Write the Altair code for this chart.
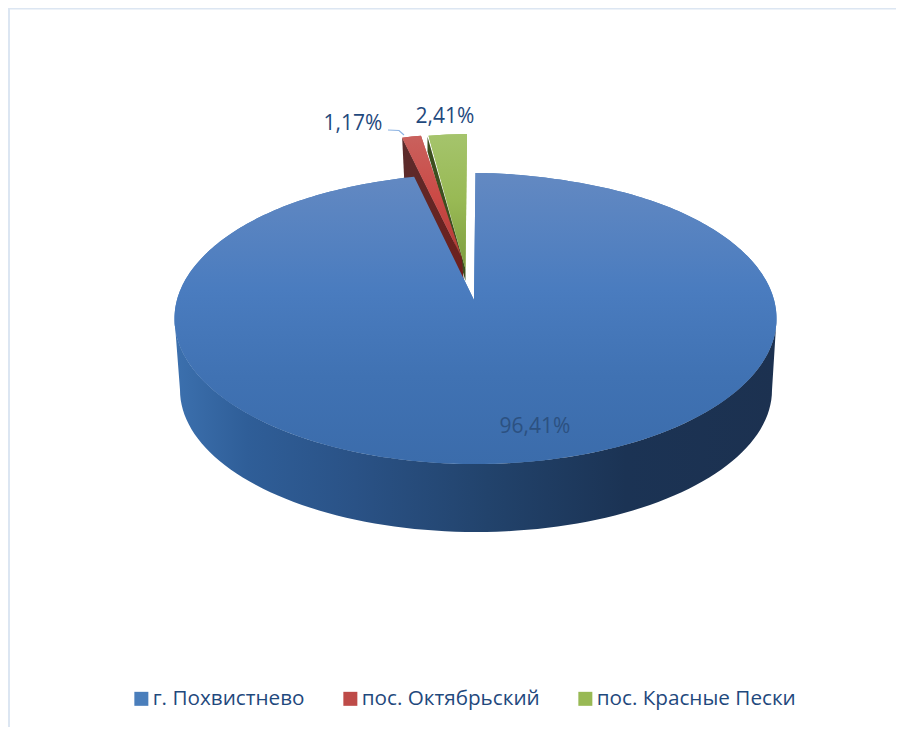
import math
import altair as alt

names = ["г. Похвистнево", "пос. Октябрьский", "пос. Красные Пески"]
shares = [96.41, 1.17, 2.41]
labels = ["96,41%", "1,17%", "2,41%"]
colors = ["#4a7ebb", "#be4b48", "#98b954"]

FONT = "Open Sans"
TEXT = "#1f497d"

# page pixel -> plot coordinate is page - 8
CX, CY, A, B = 467.5, 310.5, 301, 145.5
APEX = (466.0, 292.0)
BOT = (468.0, 382.0, 296, 142)


def rim(t, dx=0.0, dy=0.0):
    r = math.radians(t)
    c = math.cos(r)
    k = 1 - 0.13 * (max(c, 0) ** 16)
    return [CX + A * math.sin(r) * k + dx, CY - B * c + dy]


def bot(t):
    r = math.radians(t)
    return [BOT[0] + BOT[2] * math.sin(r), BOT[1] - BOT[3] * math.cos(r)]


def feature(points, name=""):
    return {"type": "Feature", "properties": {"name": name},
            "geometry": {"type": "Polygon", "coordinates": [points + [points[0]]]}}


def line_feature(points):
    return {"type": "Feature", "properties": {},
            "geometry": {"type": "LineString", "coordinates": points}}


proj = dict(type="identity", scale=1, translate=[0, 0])


def shape(features, **kw):
    return alt.Chart(alt.Data(values=features)).mark_geoshape(filled=True, **kw).project(**proj)


def vgrad(*stops):
    return alt.Gradient(gradient="linear", x1=0, x2=0, y1=0, y2=1,
                        stops=[alt.GradientStop(offset=o, color=c) for o, c in stops])


def hgrad(*stops):
    return alt.Gradient(gradient="linear", x1=0, x2=1, y1=0, y2=0,
                        stops=[alt.GradientStop(offset=o, color=c) for o, c in stops])


# slice boundaries in degrees, clockwise from twelve o'clock
total = sum(shares)
a0 = 0.0
a1 = a0 + 360 * shares[0] / total
a2 = a1 + 360 * shares[1] / total
a3 = 360.0

# main slice
main_top = [rim(a0 + (a1 - a0) * i / 360) for i in range(361)] + [list(APEX)]
main_side = [rim(t) for t in range(90, 271, 2)] + [bot(t) for t in range(270, 89, -2)]

# exploded slices: (dx, dy of rim), apex position
R_D, G_D = (-12.0, -39.0), (-8.5, -39.0)
R_APEX = [APEX[0] - 12, APEX[1] - 42]
G_APEX = [APEX[0] - 8.5, APEX[1] - 31]
r_top = [rim(a1, *R_D), rim((a1 + a2) / 2, -13, -39), rim(a2, -14, -39), R_APEX]
g_top = [rim(a2, -6.5, -39), rim((a2 + a3) / 2, *G_D), rim(a3, *G_D), G_APEX]
r_s = rim(a1, *R_D)
r_wall = [r_s, R_APEX, [R_APEX[0] + 2, R_APEX[1] + 28], [r_s[0] + 2, r_s[1] + 41]]
g_s = g_top[0]
g_wall = [[g_s[0] - 1, g_s[1] + 1], G_APEX, [G_APEX[0], G_APEX[1] + 12], [g_s[0] - 1, g_s[1] + 16]]

frame_lines = [[[0.5, 719], [0.5, 0], [888, 0]]]
leader = [[380, 122], [391, 122.5], [396, 127]]

layers = [
    alt.Chart(alt.Data(values=[line_feature(p) for p in frame_lines]))
    .mark_geoshape(filled=False, stroke="#dce6f2", strokeWidth=3).project(**proj),
    # solid base of the three slices carries the legend
    shape([feature(main_top, names[0]), feature(r_top, names[1]), feature(g_top, names[2])]).encode(
        color=alt.Color("properties.name:N",
                        scale=alt.Scale(domain=names, range=colors),
                        sort=names,
                        legend=alt.Legend(title=None, orient="none", legendX=123, legendY=680,
                                          direction="horizontal", columns=3, symbolType="square",
                                          symbolSize=196, symbolStrokeWidth=0, labelFont=FONT,
                                          labelFontSize=20.7, labelColor=TEXT, columnPadding=35,
                                          labelOffset=1, labelLimit=300))
    ),
    shape([feature(g_wall)], fill="#3c4f1f"),
    shape([feature(g_top)], fill=vgrad((0, "#a5c46c"), (0.5, "#98b954"), (1, "#7d9c3f"))),
    shape([feature(r_wall)], fill=hgrad((0, "#5b2b2b"), (1, "#6e1f1d"))),
    shape([feature(r_top)], fill=vgrad((0, "#c9615d"), (0.5, "#cb4a46"), (1, "#b23a36"))),
    shape([feature(main_side)], fill=hgrad((0, "#3c70ae"), (0.12, "#2f5e98"), (0.3, "#2a5286"),
                                           (0.52, "#22436c"), (0.75, "#1b3354"), (1, "#1c3150"))),
    shape([feature(main_top)], fill=vgrad((0, "#6389c2"), (0.4, "#4a7cbf"), (0.7, "#4072b3"), (1, "#3b6cab"))),
    alt.Chart(alt.Data(values=[line_feature(leader)]))
    .mark_geoshape(filled=False, stroke="#8db3e2", strokeWidth=1.2).project(**proj),
]

label_pos = [(527, 419, "#2c5181"), (345, 116, TEXT), (437, 109, TEXT)]
for text, (x, y, col) in zip(labels, label_pos):
    layers.append(
        alt.Chart(alt.Data(values=[{"lon": x, "lat": y, "t": text}]))
        .mark_text(font=FONT, fontSize=21, color=col, align="center", baseline="middle")
        .encode(longitude="lon:Q", latitude="lat:Q", text="t:N")
        .project(**proj)
    )

chart = (
    alt.layer(*layers)
    .resolve_scale(color="independent")
    .properties(width=888, height=719, padding=0, autosize=alt.AutoSizeParams(type="none"),
                background="white")
    .configure_view(stroke=None)
)
chart.save("out.html", embed_options={"renderer": "svg", "actions": False})
